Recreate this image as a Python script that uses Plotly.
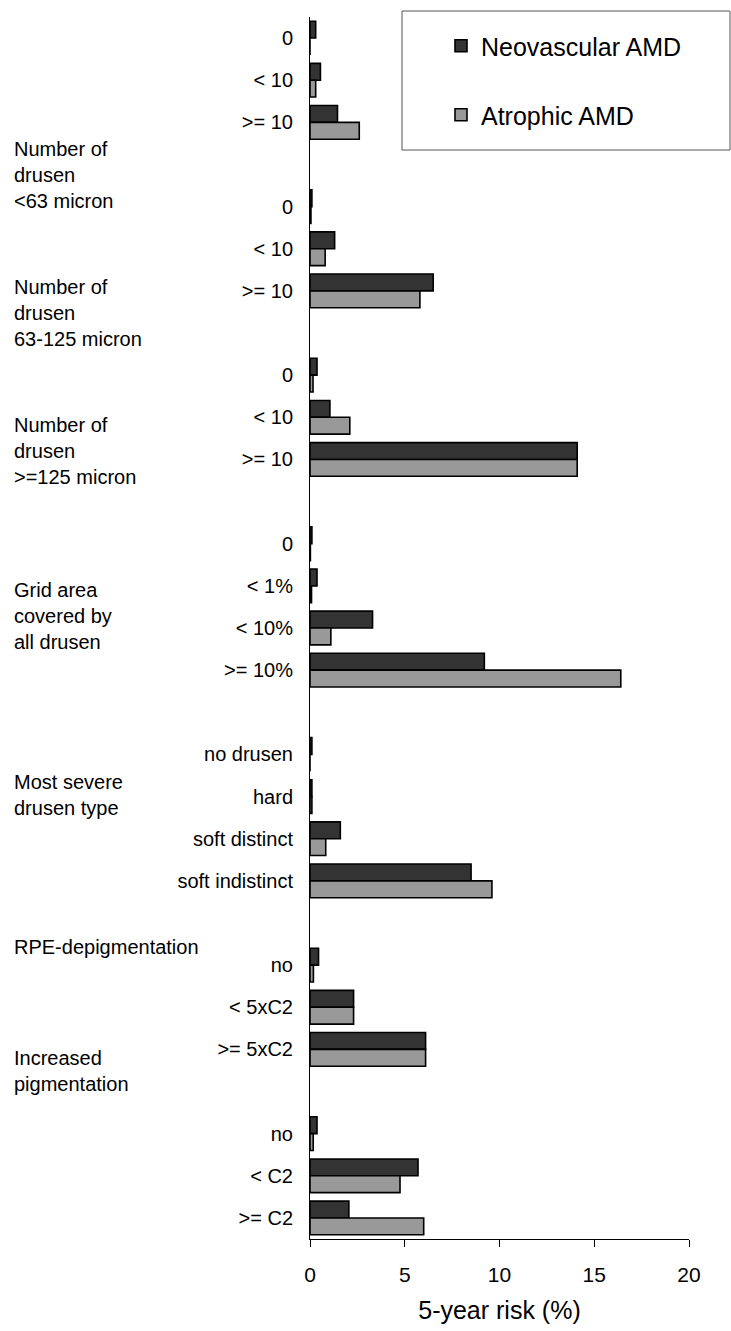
import plotly.graph_objects as go

# Risk factor groups (left-hand headings) and their sub-categories
group_titles = [
    "Number of<br>drusen<br>&lt;63 micron",
    "Number of<br>drusen<br>63-125 micron",
    "Number of<br>drusen<br>&gt;=125 micron",
    "Grid area<br>covered by<br>all drusen",
    "Most severe<br>drusen type",
    "RPE-depigmentation",
    "Increased<br>pigmentation",
]

cat_small = ["0", "< 10", ">= 10"]
cat_medium = ["0", "< 10", ">= 10"]
cat_large = ["0", "< 10", ">= 10"]
cat_area = ["0", "< 1%", "< 10%", ">= 10%"]
cat_type = ["no drusen", "hard", "soft distinct", "soft indistinct"]
cat_depig = ["no", "< 5xC2", ">= 5xC2"]
cat_pigm = ["no", "< C2", ">= C2"]

# 5-year risk (%) per sub-category
neo_small = [0.3, 0.55, 1.45]
neo_medium = [0.1, 1.3, 6.5]
neo_large = [0.37, 1.05, 14.1]
neo_area = [0.1, 0.37, 3.3, 9.2]
neo_type = [0.1, 0.1, 1.6, 8.5]
neo_depig = [0.45, 2.3, 6.1]
neo_pigm = [0.37, 5.7, 2.05]

atr_small = [0.0, 0.3, 2.6]
atr_medium = [0.05, 0.8, 5.8]
atr_large = [0.16, 2.1, 14.1]
atr_area = [0.02, 0.08, 1.1, 16.4]
atr_type = [0.0, 0.1, 0.83, 9.6]
atr_depig = [0.18, 2.3, 6.1]
atr_pigm = [0.17, 4.75, 6.0]

x_ticks = [0, 5, 10, 15, 20]

categories = [cat_small, cat_medium, cat_large, cat_area, cat_type, cat_depig, cat_pigm]
neo_groups = [neo_small, neo_medium, neo_large, neo_area, neo_type, neo_depig, neo_pigm]
atr_groups = [atr_small, atr_medium, atr_large, atr_area, atr_type, atr_depig, atr_pigm]

# Lay the sub-categories out on consecutive rows, one empty row between groups
rows, labels, neo, atr = [], [], [], []
row = 0
for gi, (cats, nv, av) in enumerate(zip(categories, neo_groups, atr_groups)):
    if gi > 0:
        row += 1
    for c, n, a in zip(cats, nv, av):
        rows.append(row)
        labels.append(c)
        neo.append(n)
        atr.append(a)
        row += 1
last_row = rows[-1]

W, H = 731, 1331
L, R, T, B = 310, 42, 17, 92
PW, PH = W - L - R, H - T - B


def paper_x(px):
    return (px - L) / PW


def paper_y(py):
    return 1 - (py - T) / PH


FONT = "Liberation Sans, Arial, sans-serif"

fig = go.Figure()
fig.add_trace(go.Bar(
    y=rows, x=neo, orientation="h", name="Neovascular AMD",
    marker=dict(color="#333333", line=dict(color="#000000", width=1.6)),
    legend="legend", showlegend=True,
))
fig.add_trace(go.Bar(
    y=rows, x=atr, orientation="h", name="Atrophic AMD",
    marker=dict(color="#999999", line=dict(color="#000000", width=1.6)),
    legend="legend2", showlegend=True,
))

# Group headings on the left
heading_y = [175, 313, 451, 616, 795, 947, 1071]
annotations = []
for title, py in zip(group_titles, heading_y):
    annotations.append(dict(
        text=title, xref="paper", yref="paper",
        x=paper_x(12), y=paper_y(py), xanchor="left", yanchor="middle",
        align="left", showarrow=False,
        font=dict(family=FONT, size=20, color="#000000"),
    ))

legend_style = dict(
    xanchor="left", yanchor="middle", bgcolor="rgba(0,0,0,0)",
    borderwidth=0, font=dict(family=FONT, size=25, color="#000000"),
)

fig.update_layout(
    width=W, height=H,
    margin=dict(l=L, r=R, t=T, b=B),
    paper_bgcolor="white", plot_bgcolor="white",
    barmode="group", bargap=0.2, bargroupgap=0,
    showlegend=True,
    font=dict(family=FONT, size=20, color="#000000"),
    annotations=annotations,
    shapes=[dict(
        type="rect", xref="paper", yref="paper",
        x0=paper_x(402), x1=paper_x(730), y0=paper_y(150), y1=paper_y(11),
        line=dict(color="#555555", width=1), fillcolor="rgba(0,0,0,0)",
    )],
    legend=dict(x=paper_x(441), y=paper_y(46), **legend_style),
    legend2=dict(x=paper_x(441), y=paper_y(115), **legend_style),
    xaxis=dict(
        range=[0, 20], tickvals=x_ticks, ticks="outside", ticklen=7,
        tickcolor="#000000", showline=True, linecolor="#000000", linewidth=1,
        showgrid=False, zeroline=False, ticklabelstandoff=10,
        tickfont=dict(family=FONT, size=21, color="#000000"),
        title=dict(text="5-year risk (%)", standoff=16,
                   font=dict(family=FONT, size=25, color="#000000")),
    ),
    yaxis=dict(
        range=[last_row + 0.5, -0.5], tickvals=rows, ticktext=labels,
        ticks="", showline=True, linecolor="#000000", linewidth=1,
        showgrid=False, zeroline=False, ticklabelstandoff=12,
        tickfont=dict(family=FONT, size=20, color="#000000"),
    ),
)

fig.write_html("out.html")
